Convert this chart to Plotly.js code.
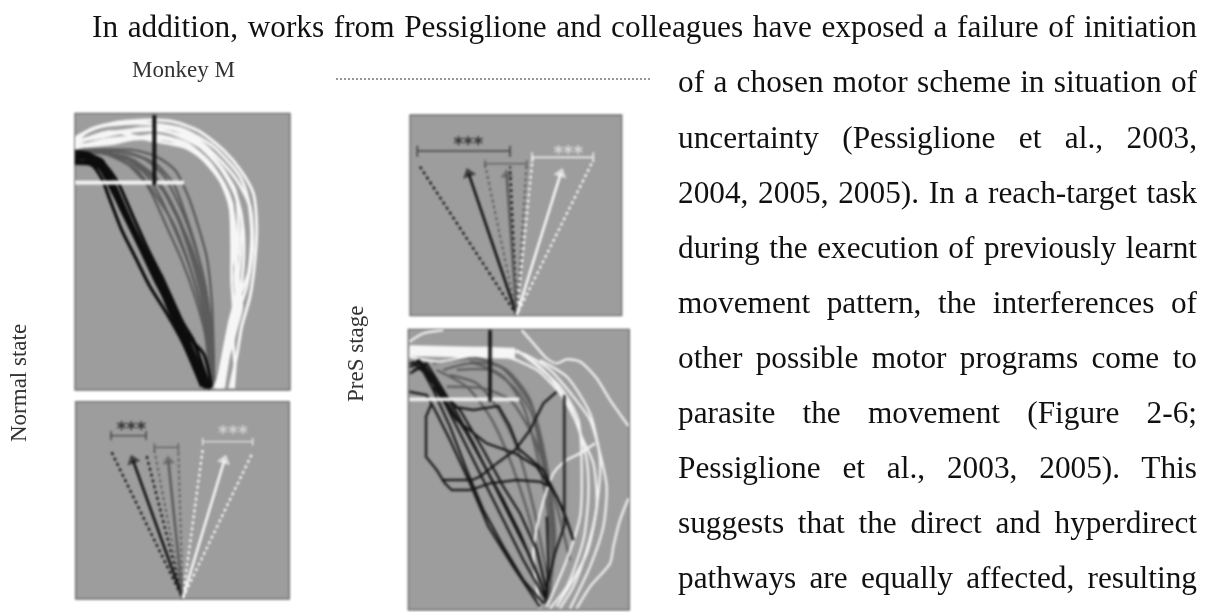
<!DOCTYPE html>
<html><head><meta charset="utf-8">
<script src="https://cdn.plot.ly/plotly-3.0.1.min.js"></script>
<style>html,body{margin:0;padding:0;background:#fff}
#g{width:1209px;height:612px}
#g .cartesianlayer,#g .layer-below{filter:blur(.8px)}
</style></head><body><div id="g"></div>
<script>
// body text
const paragraphFirstLine = "In addition, works from Pessiglione and colleagues have exposed a failure of initiation";
const paragraphLines = [
 "of a chosen motor scheme in situation of",
 "uncertainty (Pessiglione et al., 2003,",
 "2004, 2005, 2005). In a reach-target task",
 "during the execution of previously learnt",
 "movement pattern, the interferences of",
 "other possible motor programs come to",
 "parasite the movement (Figure 2-6;",
 "Pessiglione et al., 2003, 2005). This",
 "suggests that the direct and hyperdirect",
 "pathways are equally affected, resulting"];
const monkeyLabel = "Monkey M", normalLabel = "Normal state", presLabel = "PreS stage", starsLabel = "***";

// Panel A trajectories, flat x,y pairs
const aBlack = [
 [45,175,90,175,130,205,160,250,200,340,250,450,300,560,350,670,400,780,445,865],
 [45,155,85,160,135,195,175,250,215,340,265,450,310,540,360,650,410,750,450,865],
 [45,190,95,195,125,235,150,300,185,390,225,470,270,560,320,640,370,730,425,860],
 [45,165,100,180,140,225,175,300,220,390,280,510,330,620,375,700,430,760,455,860],
 [45,185,110,190,150,250,195,350,240,440,295,540,345,650,395,750,440,865],
 [60,160,120,190,165,260,205,350,255,450,305,530,350,640,400,720,445,860],
 [45,178,100,170,150,230,180,320,235,420,285,530,340,660,390,770,435,865],
 [70,165,130,215,170,290,210,380,265,480,315,590,365,690,410,790,450,865],
 [45,170,105,185,145,240,185,330,230,420,275,500,325,600,375,700,420,800,448,865],
 [45,182,115,200,155,270,200,360,245,455,290,550,340,640,385,730,430,830,452,865],
 [50,158,125,180,170,270,215,370,260,460,310,560,355,660,400,760,440,850]];
const aGray = [
 [45,152,130,148,220,150,290,170,345,210,385,290,415,380,440,470,455,600,460,720,462,840],
 [80,152,170,155,250,175,310,225,360,320,395,410,430,530,450,660,458,800],
 [100,155,190,175,255,220,300,290,345,390,385,490,420,610,445,730,455,840],
 [130,158,200,190,250,240,275,280,320,380,365,480,405,590,435,700,450,835],
 [60,155,160,165,240,200,300,260,350,340,390,440,425,560,450,700,460,830],
 [110,150,210,160,285,190,340,250,375,340,410,450,440,580,458,720,462,840],
 [150,165,230,210,290,290,340,370,380,470,410,570,440,680,455,800],
 [90,158,200,170,280,225,330,300,370,400,405,510,435,640,452,760,460,850],
 [120,152,220,180,300,255,340,330,385,420,420,520,445,650,458,780]];
const aWhite = [
 [45,125,90,90,160,70,250,60,340,65,420,95,490,150,545,215,580,280,590,380,585,480,570,590,545,680,530,770,510,865],
 [45,115,100,85,190,65,300,75,400,110,470,170,530,240,570,320,578,440,560,560,530,650,510,750,480,865],
 [45,135,110,105,210,90,320,95,420,140,490,210,530,290,550,390,550,500,535,610,510,700,490,790,465,865],
 [45,145,130,120,230,110,330,120,420,170,480,240,510,320,515,430,515,540,520,640,505,730,480,865],
 [45,125,130,110,240,85,350,90,450,160,520,270,545,350,540,480,530,570,510,680,500,790,480,865],
 [45,140,160,130,280,105,380,130,450,190,505,280,525,380,530,520,545,620,520,720,525,800,520,865],
 [50,110,120,80,230,70,360,85,460,140,540,230,565,300,575,400,565,520,530,610,515,690,495,800,470,865],
 [45,130,150,95,270,120,400,150,470,225,515,310,520,450,535,560,510,660,490,760,470,865],
 [60,120,170,100,290,90,390,115,470,190,525,270,535,420,525,530,530,610,515,700,500,800,490,865],
 [45,138,140,125,260,115,360,125,440,180,495,260,518,370,525,490,540,570,525,650,505,740,475,865]];
const aBlackBar = [283,45,283,255];
const aWhiteBar = [45,248,372,248];

// Panel D trajectories
const dGray = [
 [100,130,230,115,320,150,385,230,420,340,450,500,465,650,445,840],
 [130,150,220,130,310,170,370,260,410,400,440,550,455,720,445,830],
 [150,165,230,190,290,260,350,380,400,560,440,760],
 [110,150,200,200,270,290,330,420,390,600,435,800],
 [170,150,270,150,340,200,395,280,430,440,460,620,450,820],
 [140,200,250,205,330,240,400,350,470,560,510,720],
 [210,125,300,140,360,205,400,270,425,380,445,520,462,690]];
const dBlack = [
 [28,130,60,125,100,170,130,240,180,340,240,460,300,580,370,720,435,835],
 [30,160,80,130,120,195,165,270,220,370,265,460,320,570,380,690,440,830],
 [35,125,70,155,100,210,150,320,200,450,250,570,310,680,370,780,430,850],
 [50,120,90,180,130,230,200,340,260,450,310,540,360,640,420,780,440,840],
 [28,215,80,225,110,280,150,360,210,490,265,620,340,740,420,860],
 [60,130,120,210,180,270,250,390,310,500,360,580,410,690,440,810],
 [28,140,70,130,110,190,140,230],
 [40,150,75,140,105,200,130,225],
 [55,118,85,160,115,215,145,235],
 [95,250,78,290,78,410,110,450,135,490,155,510,210,510,270,490,350,480,420,485,450,500],
 [125,480,215,480,240,470,290,430,345,390,390,330,430,250,470,215],
 [160,260,220,270,295,258,330,320,355,385,430,450,490,570,520,660],
 [100,200,170,300,260,370,345,400,410,440,470,530,500,600,520,660],
 [495,610,465,700,440,800,435,850],
 [440,590,445,720,440,830]];
const dWhite = [
 [28,85,150,85,300,85,380,105,450,150,520,230,570,300,600,400,620,500,610,620,570,740,510,865],
 [28,95,200,100,320,110,410,150,480,220,530,310,560,420,565,530,550,660,500,800,450,865],
 [28,110,120,125,200,110,350,95,440,160,510,260,545,350,580,430,590,560,560,690,520,800,480,865],
 [28,65,70,40,130,30],
 [365,30,400,70,440,115,470,130,500,118,540,125,590,175,630,240,685,318],
 [685,535,660,600,640,680,630,730,570,800,530,865],
 [420,865,400,700,420,580,460,460,500,420,540,400,585,370],
 [440,860,500,720,540,590,545,450,535,300,480,200,350,90],
 [470,860,560,700,590,560,600,420,570,280,500,170,420,120]];
const dWhiteBand = [28,92,280,92,345,100];
const dBlackBar = [270,30,270,245];
const dWhiteBar = [28,238,358,238];
const dBlackBar2 = [493,225,493,610];

// Panel B polar plots
const bDark = [155,172,368,610,258,175];
const bMid = [283,165,368,610,355,165];
const bLight = [428,165,368,610,578,172];
const bArrowDark = [368,610,219,196], bArrowMid = [368,610,325,198], bArrowLight = [368,610,493,196];
const bBracketDark = [153,108,153,136,153,122,258,122,258,108,258,136];
const bBracketMid = [283,145,283,170,283,157,355,157,355,145,355,170];
const bBracketLight = [428,128,428,152,428,140,578,140,578,128,578,152];
const bStarsDark = [214,106], bStarsLight = [519,119];

// Panel C polar plots
const cDark = [60,185,350,630,330,185];
const cMid = [255,178,350,630,380,178];
const cLight = [398,158,350,630,580,165];
const cArrowDark = [350,630,206,206], cArrowMid = [350,630,320,209], cArrowLight = [350,630,482,206];
const cBracketDark = [52,122,52,155,52,138,330,138,330,122,330,155];
const cBracketMid = [255,165,255,188,255,176,380,176,380,165,380,188];
const cBracketLight = [396,142,396,172,396,157,580,157,580,142,580,172];
const cStarsDark = [205,122], cStarsLight = [505,147];

const colDark='#1a1a1a', colMid='#5c5c5c', colLight='#f6f6f6', panelFill='#9d9d9d', ink='#111';
const W=1209,H=612;
const traces=[];
function xs(f){return f.filter((_,i)=>i%2===0)}
function ys(f){return f.filter((_,i)=>i%2===1)}
function line(f,c,w,ax,opt){
 opt=opt||{};
 traces.push({type:'scatter',mode:'lines',x:xs(f),y:ys(f),xaxis:'x'+ax,yaxis:'y'+ax,hoverinfo:'skip',
  line:{color:c,width:w,dash:opt.dash||'solid',shape:opt.spline?'spline':'linear',smoothing:opt.spline?0.7:undefined}});
}
function arrow(f,c,w,size,ax){
 traces.push({type:'scatter',mode:'lines+markers',x:xs(f),y:ys(f),xaxis:'x'+ax,yaxis:'y'+ax,hoverinfo:'skip',
  line:{color:c,width:w},marker:{symbol:'triangle-up',angleref:'previous',size:[0,size],color:c,line:{width:0}}});
}
function stars(p,c,ax){
 traces.push({type:'scatter',mode:'text',x:[p[0]],y:[p[1]],text:[starsLabel],xaxis:'x'+ax,yaxis:'y'+ax,hoverinfo:'skip',
  textposition:'middle center',textfont:{family:'DejaVu Sans',size:19,weight:700,color:c}});
}
const dots='3px,3px';
// A
aWhite.forEach(f=>line(f,colLight,3,'',{spline:1}));
aGray.forEach(f=>line(f,colMid,2.4,'',{spline:1}));
aBlack.forEach(f=>line(f,'#0d0d0d',3.2,'',{spline:1}));
line(aWhiteBar,'#f4f4f4',4,'');
line(aBlackBar,'#151515',4,'');
// B
line(bDark,colDark,2.4,'2',{dash:dots});
line(bMid,colMid,2,'2',{dash:dots});
line(bLight,colLight,2.4,'2',{dash:dots});
arrow(bArrowDark,colDark,2.8,12,'2');arrow(bArrowMid,colMid,2.6,11,'2');arrow(bArrowLight,colLight,2.6,12,'2');
line(bBracketDark,'#444',1.4,'2');line(bBracketMid,colMid,1.4,'2');line(bBracketLight,'#e4e4e4',1.4,'2');
stars(bStarsDark,'#333','2');stars(bStarsLight,'#d2d2d2','2');
// C
line(cDark,colDark,2.4,'3',{dash:dots});
line(cMid,colMid,2,'3',{dash:dots});
line(cLight,colLight,2.4,'3',{dash:dots});
arrow(cArrowDark,colDark,2.8,12,'3');arrow(cArrowMid,colMid,2.6,11,'3');arrow(cArrowLight,colLight,2.6,12,'3');
line(cBracketDark,'#444',1.6,'3');line(cBracketMid,colMid,1.4,'3');line(cBracketLight,'#ececec',1.6,'3');
stars(cStarsDark,'#333','3');stars(cStarsLight,'#d8d8d8','3');
// D
line(dWhiteBand,colLight,11,'4');
dGray.forEach(f=>line(f,colMid,2.3,'4',{spline:1}));
dWhite.forEach(f=>line(f,colLight,2.2,'4',{spline:1}));
dBlack.forEach(f=>line(f,'#141414',2.2,'4'));
line(dWhiteBar,'#f4f4f4',3.5,'4');
line(dBlackBar,'#151515',3.5,'4');
line(dBlackBar2,'#222',2.6,'4');

function panel(id,ox,oy,xr,yr){
 const s=id===1?'':id;
 return {['xaxis'+s]:{domain:[(ox+xr[0]/3)/W,(ox+xr[1]/3)/W],range:xr,visible:false,fixedrange:true,anchor:'y'+s},
  ['yaxis'+s]:{domain:[1-(oy+yr[1]/3)/H,1-(oy+yr[0]/3)/H],range:[yr[1],yr[0]],visible:false,fixedrange:true,anchor:'x'+s}};
}
const layout=Object.assign({width:W,height:H,margin:{l:0,r:0,t:0,b:0},paper_bgcolor:'#fff',plot_bgcolor:'rgba(0,0,0,0)',showlegend:false,
 font:{family:'Liberation Serif'},
 shapes:['','2','3','4'].map(s=>({type:'rect',xref:'x'+s+' domain',yref:'y'+s+' domain',x0:0,x1:1,y0:0,y1:1,layer:'below',fillcolor:panelFill,line:{color:'#6e6e6e',width:1.4}}))
  .concat([{type:'line',xref:'paper',yref:'paper',x0:336/W,x1:652/W,y0:1-79/H,y1:1-79/H,line:{color:'#777',width:1.6,dash:'2px,2px'}}]),
 annotations:[]},
 panel(1,60,100,[45,690],[40,870]),panel(2,60,395,[47,688],[20,612]),panel(3,400,105,[30,665],[30,632]),panel(4,400,320,[25,688],[28,870]));
function text(t,x,y,size,opt){
 layout.annotations.push(Object.assign({text:t,xref:'paper',yref:'paper',x:x/W,y:1-y/H,showarrow:false,align:'left',xanchor:'left',yanchor:'middle',
  font:{family:'Liberation Serif',size:size,color:ink},borderpad:0},opt||{}));
}
const bodySize=31.3, firstLeft=91, bodyLeft=677, rightEdge=1196;
text(paragraphFirstLine,firstLeft,27,bodySize);
paragraphLines.forEach((l,i)=>text(l,bodyLeft,82+i*55.1,bodySize));
text(monkeyLabel,183,69,23,{xanchor:'center',align:'center',font:{family:'Liberation Serif',size:23,color:'#333'}});
text(normalLabel,18,383,23,{xanchor:'center',yanchor:'middle',align:'center',textangle:-90,font:{family:'Liberation Serif',size:23,color:'#333'}});
text(presLabel,355,354,23,{xanchor:'center',yanchor:'middle',align:'center',textangle:-90,font:{family:'Liberation Serif',size:23,color:'#333'}});

Plotly.newPlot('g',traces,layout,{displayModeBar:false,staticPlot:true}).then(gd=>{
 const nodes=gd.querySelectorAll('.annotation-text');
 nodes.forEach((n,i)=>{
  if(i>paragraphLines.length){n.style.filter='blur(.5px)';return;}
  const gaps=n.textContent.split(' ').length-1;
  const left=i===0?firstLeft:bodyLeft;
  n.style.wordSpacing=((rightEdge-left-n.getComputedTextLength())/gaps)+'px';
 });
});
</script></body></html>
